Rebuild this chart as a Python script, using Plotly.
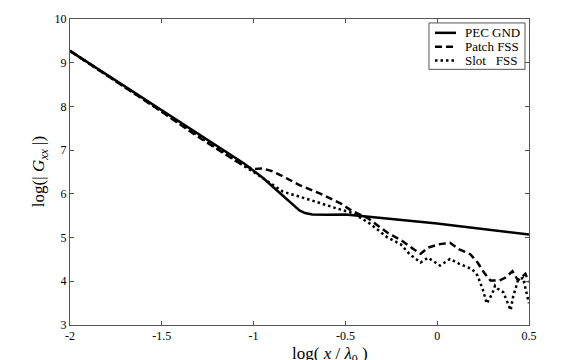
import plotly.graph_objects as go

# ---- data ----
pec_x = [-2, -1.5, -1.2, -1.05, -1.0, -0.95, -0.9, -0.85, -0.8, -0.75, -0.72, -0.68,
         -0.6, -0.5, -0.4, -0.3, -0.2, -0.1, 0, 0.1, 0.2, 0.3, 0.4, 0.5]
pec_y = [9.27, 7.91, 7.10, 6.69, 6.53, 6.37, 6.18, 5.99, 5.79, 5.62, 5.56, 5.53,
         5.52, 5.53, 5.49, 5.45, 5.41, 5.37, 5.32, 5.27, 5.22, 5.17, 5.12, 5.07]

patch_x = [-2, -1.5, -1.3, -1.2, -1.1, -1.05, -1.0, -0.95, -0.9, -0.84, -0.75, -0.64,
           -0.53, -0.46, -0.38, -0.27, -0.19, -0.13, -0.09, -0.05, 0.015, 0.07, 0.12,
           0.18, 0.22, 0.26, 0.29, 0.34, 0.37, 0.41, 0.44, 0.48, 0.5]
patch_y = [9.27, 7.88, 7.30, 7.02, 6.76, 6.64, 6.57, 6.58, 6.52, 6.40, 6.20, 6.01,
           5.79, 5.60, 5.45, 5.11, 4.92, 4.74, 4.63, 4.77, 4.85, 4.88, 4.73,
           4.62, 4.43, 4.17, 4.02, 4.02, 4.08, 4.23, 4.02, 4.17, 3.98]

slot_x = [-2, -1.5, -1.3, -1.2, -1.1, -1.05, -1.0, -0.95, -0.9, -0.84, -0.75, -0.66,
          -0.55, -0.46, -0.37, -0.27, -0.2, -0.15, -0.09, -0.05, 0.015, 0.07, 0.12,
          0.19, 0.22, 0.25, 0.27, 0.30, 0.315, 0.33, 0.36, 0.40, 0.413, 0.44, 0.467,
          0.495, 0.5]
slot_y = [9.27, 7.88, 7.31, 7.04, 6.76, 6.63, 6.50, 6.35, 6.22, 6.05, 5.94, 5.82,
          5.67, 5.56, 5.33, 5.00, 4.85, 4.62, 4.43, 4.54, 4.36, 4.51, 4.40,
          4.28, 4.13, 3.79, 3.49, 3.72, 3.90, 3.83, 3.75, 3.34, 3.64, 4.02, 4.08,
          3.57, 3.50]

series_names = ["PEC GND", "Patch FSS", "Slot&nbsp;&nbsp;&nbsp;FSS"]

x_ticks = [-2, -1.5, -1, -0.5, 0, 0.5]
x_ticklabels = ["-2", "-1.5", "-1", "-0.5", "0", "0.5"]
y_ticks = [3, 4, 5, 6, 7, 8, 9, 10]
y_ticklabels = ["3", "4", "5", "6", "7", "8", "9", "10"]

FONT = "Liberation Serif"
dashes = ["solid", "7px,4px", "2.5px,3px"]

fig = go.Figure()
for xs, ys, nm, ds in zip([pec_x, patch_x, slot_x], [pec_y, patch_y, slot_y],
                          series_names, dashes):
    fig.add_trace(go.Scatter(x=xs, y=ys, mode="lines", name=nm, showlegend=False,
                             line=dict(color="black", width=2.5, dash=ds)))

axis_common = dict(showline=True, linecolor="#555", linewidth=1, mirror="ticks",
                   ticks="inside", ticklen=4, tickcolor="#555", showgrid=False,
                   zeroline=False, tickfont=dict(family=FONT, size=12, color="black"))

fig.update_xaxes(range=[-2, 0.5], tickvals=x_ticks, ticktext=x_ticklabels,
                 ticklabelstandoff=0, **axis_common)
fig.update_yaxes(range=[3, 10], tickvals=y_ticks, ticktext=y_ticklabels,
                 ticklabelstandoff=0, **axis_common)

# manual legend box (paper coordinates)
shapes = [dict(type="rect", xref="paper", yref="paper", x0=0.7821, x1=0.9913,
               y0=0.8355, y1=0.9871, line=dict(color="#555", width=1),
               fillcolor="white", layer="above")]
annotations = []
rows = [0.9548, 0.9097, 0.8645]
for ry, nm, ds in zip(rows, series_names, dashes):
    shapes.append(dict(type="line", xref="paper", yref="paper", x0=0.7952, x1=0.8410,
                       y0=ry, y1=ry, line=dict(color="black", width=2.5, dash=ds),
                       layer="above"))
    annotations.append(dict(text=nm, xref="paper", yref="paper", x=0.8562, y=ry,
                            xanchor="left", yanchor="middle", showarrow=False,
                            font=dict(family=FONT, size=13, color="black")))

annotations += [
    dict(text="log(| <i>G</i><sub><i>xx</i></sub> |)", xref="paper", yref="paper",
         x=-0.065, y=0.5, xanchor="center", yanchor="middle", textangle=-90,
         showarrow=False, font=dict(family=FONT, size=17, color="black")),
    dict(text="log( <i>x</i> / <i>λ</i><sub>0</sub> )", xref="paper", yref="paper",
         x=0.567, y=-0.055, xanchor="center", yanchor="top",
         showarrow=False, font=dict(family=FONT, size=17, color="black")),
]

fig.update_layout(
    width=582, height=360,
    margin=dict(l=70, r=53, t=15, b=35),
    plot_bgcolor="white", paper_bgcolor="white",
    font=dict(family=FONT, color="black"),
    showlegend=False,
    shapes=shapes,
    annotations=annotations,
)

fig.write_html("out.html")
